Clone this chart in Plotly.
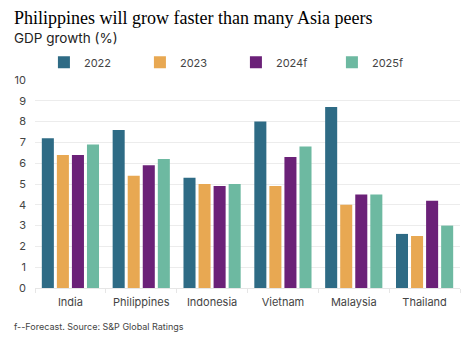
import plotly.graph_objects as go

countries = ["India", "Philippines", "Indonesia", "Vietnam", "Malaysia", "Thailand"]
years = ["2022", "2023", "2024f", "2025f"]
gdp_2022 = [7.2, 7.6, 5.3, 8.0, 8.7, 2.6]
gdp_2023 = [6.4, 5.4, 5.0, 4.9, 4.0, 2.5]
gdp_2024f = [6.4, 5.9, 4.9, 6.3, 4.5, 4.2]
gdp_2025f = [6.9, 6.2, 5.0, 6.8, 4.5, 3.0]
y_ticks = list(range(0, 11))

series = [gdp_2022, gdp_2023, gdp_2024f, gdp_2025f]
colors = ["#2e6b85", "#e8a852", "#6b2178", "#6db9a1"]

fig = go.Figure()
for name, vals, col in zip(years, series, colors):
    fig.add_trace(go.Bar(x=countries, y=vals, name=name, marker_color=col,
                         marker_line_width=0))

fig.update_layout(
    width=474, height=343,
    margin=dict(l=35, r=14, t=80, b=55),
    paper_bgcolor="white", plot_bgcolor="white",
    barmode="group", bargap=0.15, bargroupgap=0.2,
    font=dict(family="Inter, Roboto, sans-serif", color="#444444", size=11),
    showlegend=True,
    legend=dict(orientation="h", x=0.021, xanchor="left", y=1.085, yanchor="middle",
                entrywidth=51, font=dict(size=11, color="#444444"),
                itemclick=False, traceorder="normal"),
    xaxis=dict(showgrid=False, showline=True, linecolor="#e6e6e6", ticks="outside",
               tickson="boundaries", ticklen=4, tickcolor="#e6e6e6",
               ticklabelstandoff=4,
               tickfont=dict(size=11, color="#444444")),
    yaxis=dict(range=[0, 10], tickvals=y_ticks, showgrid=True, gridcolor="#ececec",
               zeroline=False, showline=False, ticks="", ticklabelstandoff=8,
               tickfont=dict(size=11, color="#444444")),
)

fig.add_annotation(text="Philippines will grow faster than many Asia peers",
                   xref="paper", yref="paper", x=-0.055, y=1.0, xanchor="left", yanchor="top",
                   yshift=80-6, showarrow=False,
                   font=dict(family="Liberation Serif, serif", size=18, color="#000000"))
fig.add_annotation(text="GDP growth (%)",
                   xref="paper", yref="paper", x=-0.055, y=1.0, xanchor="left", yanchor="top",
                   yshift=80-28, showarrow=False,
                   font=dict(family="Inter, sans-serif", size=13.5, color="#222222"))
fig.add_annotation(text="f--Forecast. Source: S&P Global Ratings",
                   xref="paper", yref="paper", x=-0.055, y=0, xanchor="left", yanchor="top",
                   yshift=-31, showarrow=False,
                   font=dict(family="Inter, sans-serif", size=9, color="#444444"))

fig.write_html("out.html")
